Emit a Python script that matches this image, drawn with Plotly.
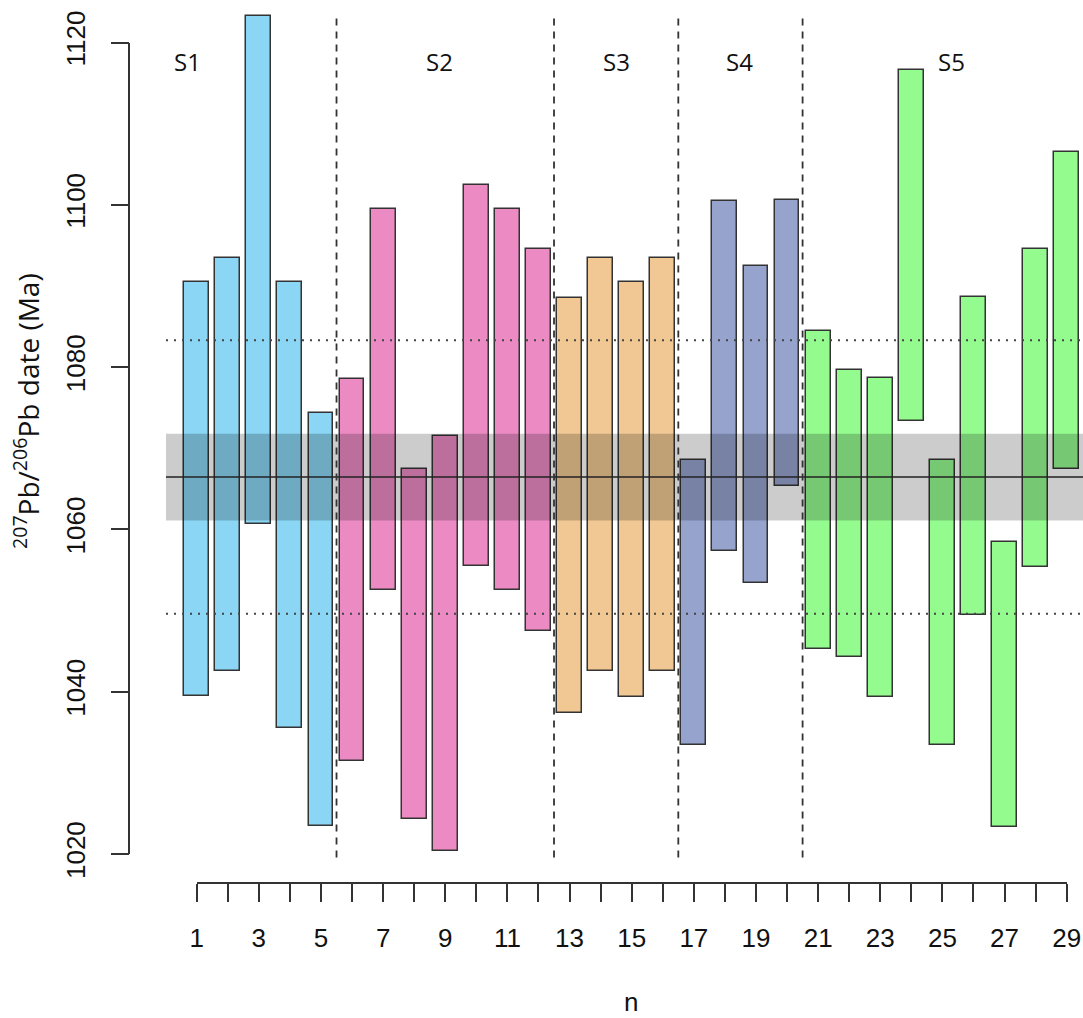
import plotly.graph_objects as go

# ---------------- data ----------------
n = list(range(1, 30))
groups = ["S1"] * 5 + ["S2"] * 7 + ["S3"] * 4 + ["S4"] * 4 + ["S5"] * 9
upper = [1090.5, 1093.5, 1123.3, 1090.5, 1074.4,
         1078.5, 1099.5, 1067.5, 1071.5, 1102.5, 1099.5, 1094.5,
         1088.5, 1093.5, 1090.5, 1093.5,
         1068.5, 1100.5, 1092.5, 1100.6,
         1084.5, 1079.6, 1078.6, 1116.6, 1068.5, 1088.6, 1058.5, 1094.6, 1106.5]
lower = [1039.5, 1042.5, 1060.7, 1035.5, 1023.5,
         1031.4, 1052.5, 1024.3, 1020.4, 1055.5, 1052.5, 1047.5,
         1037.4, 1042.5, 1039.4, 1042.5,
         1033.4, 1057.4, 1053.4, 1065.3,
         1045.3, 1044.3, 1039.3, 1073.4, 1033.4, 1049.4, 1023.3, 1055.4, 1067.4]
group_names = ["S1", "S2", "S3", "S4", "S5"]
group_colors = ["#8AD6F4", "#EC8BC3", "#F1C893", "#96A3CD", "#94FC8F"]
group_label_x = [0.70, 8.80, 14.5, 18.46, 25.3]
group_label_y = 1117.6
group_breaks = [5.5, 12.5, 16.5, 20.5]
mean_date = 1066.45
band_half = 5.35
mswd_half = 16.85
x_tick_labels = [1, 3, 5, 7, 9, 11, 13, 15, 17, 19, 21, 23, 25, 27, 29]
y_ticks = [1020, 1040, 1060, 1080, 1100, 1120]

# ---------------- layout geometry (page pixels) ----------------
W, H = 1083, 1018
px_x1, px_x29 = 196.7, 1066.7      # x=1 and x=29
sx = (px_x29 - px_x1) / 28.0
px_y1020, px_y1120 = 854.0, 42.5
sy = (px_y1020 - px_y1120) / 100.0
plot_left, plot_right = 166.0, W
plot_top, plot_bottom = 13.0, 857.5

def x_at(px):
    return 1 + (px - px_x1) / sx

def y_at(py):
    return 1020 + (px_y1020 - py) / sy

FONT = "Liberation Sans, Arial, sans-serif"
LFONT = "Open Sans, DejaVu Sans, sans-serif"
EDGE = "#333333"

fig = go.Figure()
for g, col in zip(group_names, group_colors):
    idx = [i for i, gg in enumerate(groups) if gg == g]
    fig.add_trace(go.Bar(
        x=[n[i] for i in idx],
        y=[upper[i] - lower[i] for i in idx],
        base=[lower[i] for i in idx],
        width=0.8,
        marker=dict(color=col, line=dict(color=EDGE, width=1.5)),
        name=g, showlegend=False, hoverinfo="skip",
    ))

# invisible trace to realise the R-style display axes
fig.add_trace(go.Scatter(x=[], y=[], xaxis="x2", yaxis="y2", showlegend=False))

shapes = []
shapes.append(dict(type="rect", xref="x domain", yref="y", x0=0, x1=1,
                   y0=mean_date - band_half, y1=mean_date + band_half,
                   fillcolor="rgba(0,0,0,0.2)", line=dict(width=0), layer="above"))
shapes.append(dict(type="line", xref="x domain", yref="y", x0=0, x1=1,
                   y0=mean_date, y1=mean_date,
                   line=dict(color="#222222", width=1.5), layer="above"))
for yv in (mean_date - mswd_half, mean_date + mswd_half):
    shapes.append(dict(type="line", xref="x domain", yref="y", x0=0, x1=1,
                       y0=yv, y1=yv,
                       line=dict(color="#444444", width=2, dash="2px,6px"), layer="above"))
for xv in group_breaks:
    shapes.append(dict(type="line", xref="x", yref="y domain", x0=xv, x1=xv,
                       y0=0, y1=1,
                       line=dict(color="#333333", width=1.8, dash="7px,6px"), layer="above"))

annotations = []
for name, lx in zip(group_names, group_label_x):
    annotations.append(dict(x=lx, y=group_label_y, xref="x", yref="y", text=name,
                            showarrow=False, xanchor="center", yanchor="middle",
                            font=dict(family=LFONT, size=24, color="#111111")))
annotations.append(dict(x=26 / W, y=1 - 411 / H, xref="paper", yref="paper",
                        text="<sup>207</sup>Pb/<sup>206</sup>Pb date (Ma)", textangle=-90,
                        xanchor="center", yanchor="middle", borderpad=0,
                        showarrow=False, font=dict(family=LFONT, size=28, color="#111111")))
annotations.append(dict(x=631 / W, y=1 - 1002 / H, xref="paper", yref="paper",
                        text="n", showarrow=False, xanchor="center", yanchor="middle",
                        borderpad=0, font=dict(family=FONT, size=26, color="#111111")))

fig.update_layout(
    width=W, height=H, autosize=False,
    margin=dict(l=0, r=0, t=0, b=0, pad=0, autoexpand=False),
    paper_bgcolor="white", plot_bgcolor="rgba(0,0,0,0)",
    bargap=0, barmode="overlay",
    shapes=shapes, annotations=annotations,
    xaxis=dict(domain=[plot_left / W, plot_right / W],
               range=[x_at(plot_left), x_at(plot_right)],
               visible=False, fixedrange=True, automargin=False),
    yaxis=dict(domain=[1 - plot_bottom / H, 1 - plot_top / H],
               range=[y_at(plot_bottom), y_at(plot_top)],
               visible=False, fixedrange=True, automargin=False),
    xaxis2=dict(domain=[px_x1 / W, px_x29 / W], range=[1, 29],
                anchor="free", position=1 - 883.3 / H, automargin=False,
                showline=True, linecolor=EDGE, linewidth=1.5,
                ticks="outside", ticklen=18, tickwidth=1.5, tickcolor=EDGE,
                tickmode="array", tickvals=x_tick_labels,
                minor=dict(tickmode="linear", tick0=1, dtick=1, ticks="outside",
                           ticklen=18, tickwidth=1.5, tickcolor=EDGE, showgrid=False),
                showgrid=False, zeroline=False, ticklabelstandoff=14,
                tickfont=dict(family=FONT, size=26, color="#111111")),
    yaxis2=dict(domain=[1 - px_y1020 / H, 1 - px_y1120 / H], range=[1020, 1120],
                anchor="free", position=129.3 / W, side="left", automargin=False,
                showline=True, linecolor=EDGE, linewidth=1.5,
                ticks="outside", ticklen=18, tickwidth=1.5, tickcolor=EDGE,
                tickmode="array", tickvals=y_ticks, tickangle=-90,
                showgrid=False, zeroline=False, ticklabelstandoff=15,
                tickfont=dict(family=FONT, size=26, color="#111111")),
)

fig.write_html("out.html", config={"displayModeBar": False},
               post_script="document.body.style.margin='0';document.body.style.overflow='hidden';")
